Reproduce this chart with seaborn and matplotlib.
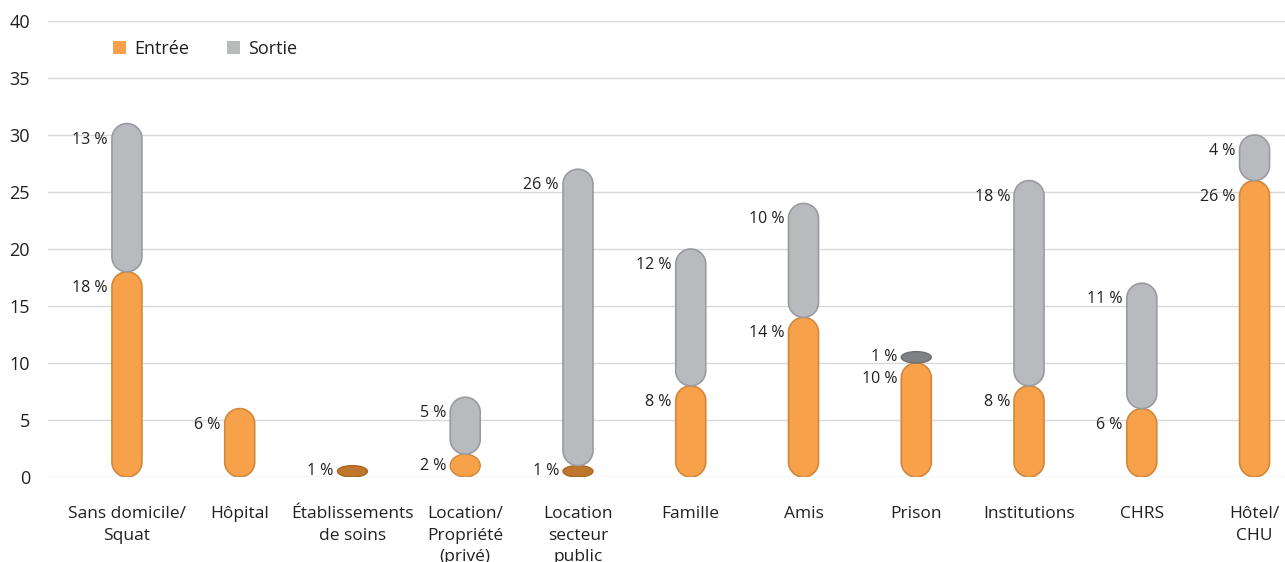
import matplotlib
matplotlib.use("Agg")
import matplotlib.pyplot as plt
import seaborn as sns
import pandas as pd
import numpy as np
from matplotlib.patches import Polygon, Ellipse, Patch

# ---------------- data ----------------
categories = ["Sans domicile/\nSquat", "Hôpital", "Établissements\nde soins",
              "Location/\nPropriété\n(privé)", "Location\nsecteur\npublic",
              "Famille", "Amis", "Prison", "Institutions", "CHRS", "Hôtel/\nCHU"]
entree = [18, 6, 1, 2, 1, 8, 14, 10, 8, 6, 26]
sortie = [13, 0, 0, 5, 26, 12, 10, 1, 18, 11, 4]
series_names = ["Entrée", "Sortie"]
yticks = [0, 5, 10, 15, 20, 25, 30, 35, 40]

# ---------------- style ----------------
sns.set_theme(style="white")
plt.rcParams['font.family'] = ['Open Sans', 'DejaVu Sans']

ORANGE = "#F7A24B"
ORANGE_EDGE = "#D3873A"
ORANGE_DARK = "#BF762E"
GRAY = "#B9BABE"
GRAY_EDGE = "#9A9BA0"
GRAY_DARK = "#808184"
TEXT = "#231F20"
GRID = "#D9D9D9"

W, H = 1285, 562
fig = plt.figure(figsize=(W / 100, H / 100), dpi=100)
ax_left, ax_right, ax_top, ax_bottom = 48, 1285, 21, 477
ax = fig.add_axes([ax_left / W, 1 - ax_bottom / H,
                   (ax_right - ax_left) / W, (ax_bottom - ax_top) / H])

df = pd.DataFrame({"cat": categories, "Entrée": entree, "Sortie": sortie})
bar_w = 0.266
sns.barplot(data=df, x="cat", y="Entrée", color=ORANGE, width=bar_w,
            errorbar=None, ax=ax)
n_e = len(ax.patches)
sns.barplot(data=df, x="cat", y="Sortie", color=GRAY, width=bar_w,
            errorbar=None, ax=ax)

xmin, xmax = -0.70, 10.27
ax.set_xlim(xmin, xmax)
ax.set_ylim(0, 40)

# aspect: data y-units per pixel / data x-units per pixel
ypp = 40 / (ax_bottom - ax_top)
xpp = (xmax - xmin) / (ax_right - ax_left)
aspect = ypp / xpp

rects = list(ax.patches)
segments = []
for i, r in enumerate(rects):
    is_e = i < n_e
    idx = i if is_e else i - n_e
    x0, w, h = r.get_x(), r.get_width(), r.get_height()
    y0 = 0 if is_e else entree[idx]
    segments.append((is_e, x0, w, y0, h))
    r.remove()

def capsule(x0, w, y0, h):
    rr = w / 2
    cx = x0 + rr
    ys0 = y0 / aspect
    ys1 = (y0 + h) / aspect
    t_bot = np.linspace(np.pi, 2 * np.pi, 40)
    t_top = np.linspace(0, np.pi, 40)
    xb = cx + rr * np.cos(t_bot)
    yb = ys0 + rr + rr * np.sin(t_bot)
    xt = cx + rr * np.cos(t_top)
    yt = ys1 - rr + rr * np.sin(t_top)
    xs = np.concatenate([xb, xt])
    ys = np.concatenate([yb, yt]) * aspect
    return np.column_stack([xs, ys])

for is_e, x0, w, y0, h in segments:
    if h <= 0:
        continue
    h_px = h / ypp
    w_px = w / xpp
    small = h_px < 15
    if is_e:
        fc = ORANGE_DARK if small else ORANGE
        ec = ORANGE_EDGE if not small else "#A8661F"
    else:
        fc = GRAY_DARK if small else GRAY
        ec = GRAY_EDGE if not small else "#6E6F72"
    if h_px < w_px:
        p = Ellipse((x0 + w / 2, y0 + h / 2), w, h, facecolor=fc,
                    edgecolor=ec, linewidth=1.0, zorder=3)
    else:
        p = Polygon(capsule(x0, w, y0, h), closed=True, facecolor=fc,
                    edgecolor=ec, linewidth=1.2, zorder=3)
    ax.add_patch(p)
    val = int(round(h))
    dy = min(16, h_px / 2)
    ax.annotate(f"{val} %", xy=(x0, y0 + h), xytext=(-4, -dy),
                textcoords="offset pixels", ha="right", va="center",
                fontsize=11.5, color=TEXT, zorder=4)

# axes styling
ax.set_yticks(yticks)
ax.set_yticklabels([str(t) for t in yticks])
ax.yaxis.grid(True, color=GRID, linewidth=1.0)
ax.set_axisbelow(True)
for s in ax.spines.values():
    s.set_visible(False)
ax.tick_params(axis="y", length=0, pad=13, labelsize=13, labelcolor=TEXT)
ax.tick_params(axis="x", length=0, pad=21, labelsize=12.5, labelcolor=TEXT)
for lab in ax.get_xticklabels():
    lab.set_linespacing(1.45)
ax.set_xlabel("")
ax.set_ylabel("")

handles = [Patch(facecolor=ORANGE, edgecolor="none"),
           Patch(facecolor=GRAY, edgecolor="none")]
leg = fig.legend(handles, series_names, loc="center left",
                 bbox_to_anchor=(97 / W, 1 - 49 / H), ncol=2, frameon=False,
                 fontsize=13, handlelength=0.7, handleheight=0.7,
                 handletextpad=0.45, columnspacing=2.1, labelcolor=TEXT)

fig.savefig("out.png", dpi=100, facecolor="white")
